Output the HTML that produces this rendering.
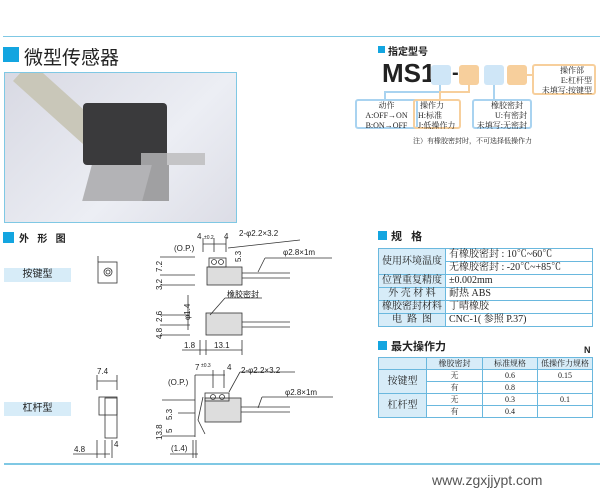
<!DOCTYPE html>
<html><head><meta charset="utf-8">
<style>
body{margin:0;width:600px;height:500px;background:#fff;position:relative;overflow:hidden;font-family:"Liberation Serif","Noto Serif CJK SC",serif;color:#222}
.a{position:absolute;white-space:nowrap}
.sq{position:absolute;background:#13a5e0}
.h{font-family:"Liberation Sans","Noto Sans CJK SC",sans-serif;font-weight:bold}
table{border-collapse:collapse;position:absolute;font-size:10px}
td{border:1px solid #6ab8de;padding:0 3px;height:11px;line-height:11px}
.sp td{height:12px;line-height:12px}
.lb{background:#d7ecf8}
</style></head><body>
<div class="a" style="left:3px;top:36px;width:597px;height:1px;background:#7fc8e4"></div>
<div class="sq" style="left:3px;top:47px;width:16px;height:15px"></div>
<div class="a h" style="left:24px;top:43px;font-size:19px;font-weight:normal">微型传感器</div>
<div class="a" style="left:4px;top:72px;width:231px;height:149px;border:1px solid #7fc8e4;background:linear-gradient(135deg,#d8d9e3,#eceef4 60%,#dcdde6);overflow:hidden">
<div class="a" style="left:5px;top:0;width:26px;height:140px;background:#c9c7b9;transform:rotate(-48deg);transform-origin:top left;left:8px;top:8px"></div>
<div class="a" style="left:78px;top:30px;width:84px;height:62px;background:#3a3a3c;border-radius:4px"></div>
<div class="a" style="left:136px;top:80px;width:28px;height:48px;background:#a0a0a2"></div>
<div class="a" style="left:82px;top:92px;width:60px;height:36px;background:#b3b3b6;transform:skewX(-15deg)"></div>
<div class="a" style="left:162px;top:80px;width:38px;height:12px;background:#c4c4c6"></div>
</div>

<div class="sq" style="left:378px;top:46px;width:7px;height:7px"></div>
<div class="a h" style="left:388px;top:43px;font-size:10px">指定型号</div>
<div class="a" style="left:382px;top:58px;font-family:'Liberation Sans',sans-serif;font-weight:bold;font-size:26px">MS1</div>
<div class="a" style="left:431px;top:65px;width:20px;height:20px;background:#cfe6f7;border-radius:3px"></div>
<div class="a" style="left:452px;top:62px;font-size:20px;font-weight:bold;font-family:'Liberation Sans'">-</div>
<div class="a" style="left:459px;top:65px;width:20px;height:20px;background:#f7cf9c;border-radius:3px"></div>
<div class="a" style="left:484px;top:65px;width:20px;height:20px;background:#cfe6f7;border-radius:3px"></div>
<div class="a" style="left:507px;top:65px;width:20px;height:20px;background:#f7cf9c;border-radius:3px"></div>
<div class="a" style="left:532px;top:64px;width:64px;height:31px;border:2px solid #f7cf9c;border-radius:3px;font-size:8px;line-height:10px;text-align:right;padding-right:2px;box-sizing:border-box">操作部&nbsp;&nbsp;&nbsp;&nbsp;<br>E:杠杆型<br>未填写:按键型</div>
<svg class="a" style="left:0;top:0" width="600" height="500">
<polyline points="440,85 440,92 385,92 385,99" fill="none" stroke="#a9d3f0" stroke-width="2"/>
<polyline points="469,85 469,92 440,92 440,99" fill="none" stroke="#f7cf9c" stroke-width="2"/>
<polyline points="494,85 494,99" fill="none" stroke="#a9d3f0" stroke-width="2"/>
<polyline points="527,75 532,75" fill="none" stroke="#f7cf9c" stroke-width="2"/>
</svg>
<div class="a" style="left:355px;top:99px;width:63px;height:30px;border:2px solid #a9d3f0;border-radius:3px;font-size:8px;line-height:10px;text-align:center;box-sizing:border-box">动作<br>A:OFF→ON<br>B:ON→OFF</div>
<div class="a" style="left:413px;top:99px;width:48px;height:30px;border:2px solid #f7cf9c;border-radius:3px;font-size:8px;line-height:10px;text-align:left;padding-left:3px;box-sizing:border-box">&nbsp;操作力<br>H:标准<br>J:低操作力</div>
<div class="a" style="left:472px;top:99px;width:60px;height:30px;border:2px solid #a9d3f0;border-radius:3px;font-size:8px;line-height:10px;text-align:right;padding-right:3px;box-sizing:border-box">橡胶密封&nbsp;&nbsp;<br>U:有密封<br>未填写:无密封</div>
<div class="a" style="left:413px;top:136px;font-size:7px">注）有橡胶密封时，不可选择低操作力</div>

<div class="sq" style="left:378px;top:231px;width:9px;height:9px"></div>
<div class="a h" style="left:391px;top:228px;font-size:11px">规&nbsp;&nbsp;&nbsp;格</div>
<table class="sp" style="left:378px;top:248px;width:215px">
<tr><td class="lb" rowspan="2" style="width:60px">使用环境温度</td><td>有橡胶密封 : 10℃~60℃</td></tr>
<tr><td>无橡胶密封 : -20℃~+85℃</td></tr>
<tr><td class="lb">位置重复精度</td><td>±0.002mm</td></tr>
<tr><td class="lb" style="text-align:center">外 壳 材 料</td><td>耐热 ABS</td></tr>
<tr><td class="lb">橡胶密封材料</td><td>丁晴橡胶</td></tr>
<tr><td class="lb" style="text-align:center">电&nbsp;&nbsp;路&nbsp;&nbsp;图</td><td>CNC-1( 参照 P.37)</td></tr>
</table>
<div class="sq" style="left:378px;top:341px;width:9px;height:9px"></div>
<div class="a h" style="left:391px;top:338px;font-size:11px">最大操作力</div>
<div class="a h" style="left:584px;top:345px;font-size:9px">N</div>
<table style="left:378px;top:357px;width:215px;font-size:8px;text-align:center">
<tr><td class="lb" style="width:41px"></td><td class="lb" style="width:49px">橡胶密封</td><td class="lb" style="width:48px">标准规格</td><td class="lb">低操作力规格</td></tr>
<tr><td class="lb" rowspan="2" style="font-size:10px">按键型</td><td>无</td><td>0.6</td><td>0.15</td></tr>
<tr><td>有</td><td>0.8</td><td></td></tr>
<tr><td class="lb" rowspan="2" style="font-size:10px">杠杆型</td><td>无</td><td>0.3</td><td>0.1</td></tr>
<tr><td>有</td><td>0.4</td><td></td></tr>
</table>

<div class="sq" style="left:3px;top:232px;width:11px;height:11px"></div>
<div class="a h" style="left:19px;top:230px;font-size:10px">外&nbsp;&nbsp;&nbsp;形&nbsp;&nbsp;&nbsp;图</div>
<div class="a lb" style="left:4px;top:268px;width:67px;height:14px;font-size:10px;text-align:center;line-height:14px;font-family:'Liberation Sans','Noto Sans CJK SC',sans-serif">按键型</div>
<div class="a lb" style="left:4px;top:402px;width:67px;height:14px;font-size:10px;text-align:center;line-height:14px;font-family:'Liberation Sans','Noto Sans CJK SC',sans-serif">杠杆型</div>
<svg class="a" style="left:0;top:0;font-family:'Liberation Sans',sans-serif" width="600" height="500" font-size="8" fill="#222">
<g stroke="#333" stroke-width="0.8" fill="none">
<rect x="98" y="262" width="19" height="21"/><circle cx="108" cy="272" r="4"/><circle cx="108" cy="272" r="2"/><line x1="98" y1="256" x2="98" y2="262"/>
<rect x="207" y="267" width="35" height="18" fill="#ddd"/><rect x="209" y="258" width="17" height="9"/>
<circle cx="214" cy="262" r="2.5"/><circle cx="221" cy="262" r="2.5"/>
<line x1="242" y1="273" x2="290" y2="273"/><line x1="242" y1="278" x2="290" y2="278"/>
<line x1="160" y1="257" x2="195" y2="257"/><line x1="160" y1="275" x2="195" y2="275"/><line x1="160" y1="285" x2="195" y2="285"/>
<line x1="203" y1="238" x2="203" y2="252"/><line x1="214" y1="238" x2="214" y2="252"/><line x1="226" y1="238" x2="226" y2="252"/>
<line x1="203" y1="244" x2="226" y2="244"/>
<line x1="228" y1="248" x2="300" y2="240"/><line x1="265" y1="258" x2="332" y2="258"/><line x1="265" y1="258" x2="258" y2="272"/>
<rect x="206" y="313" width="36" height="22" fill="#ddd"/>
<line x1="242" y1="322" x2="290" y2="322"/><line x1="242" y1="327" x2="290" y2="327"/>
<line x1="160" y1="315" x2="190" y2="315"/><line x1="160" y1="325" x2="190" y2="325"/><line x1="160" y1="335" x2="190" y2="335"/>
<line x1="188" y1="295" x2="188" y2="330"/>
<line x1="210" y1="315" x2="225" y2="298"/><line x1="225" y1="298" x2="262" y2="298"/>
<line x1="182" y1="350" x2="242" y2="350"/><line x1="200" y1="340" x2="200" y2="355"/><line x1="206" y1="340" x2="206" y2="355"/><line x1="242" y1="340" x2="242" y2="355"/>
<rect x="105" y="398" width="12" height="40"/><rect x="99" y="397" width="18" height="18"/>
<line x1="97" y1="375" x2="97" y2="390"/><line x1="117" y1="375" x2="117" y2="390"/><line x1="97" y1="381" x2="117" y2="381"/>
<line x1="73" y1="454" x2="110" y2="454"/><line x1="97" y1="440" x2="97" y2="458"/><line x1="105" y1="440" x2="105" y2="458"/><line x1="112" y1="440" x2="112" y2="458"/>
<rect x="205" y="398" width="36" height="24" fill="#ddd"/><rect x="205" y="393" width="24" height="8"/>
<circle cx="213" cy="397" r="2.5"/><circle cx="222" cy="397" r="2.5"/>
<line x1="241" y1="407" x2="290" y2="407"/><line x1="241" y1="412" x2="290" y2="412"/>
<polyline points="203,397 198,420 205,434"/>
<line x1="162" y1="400" x2="195" y2="400"/><line x1="162" y1="436" x2="195" y2="436"/><line x1="178" y1="413" x2="195" y2="413"/>
<line x1="195" y1="375" x2="195" y2="437"/>
<line x1="195" y1="375" x2="225" y2="375"/><line x1="213" y1="370" x2="213" y2="388"/><line x1="224" y1="370" x2="224" y2="388"/>
<line x1="229" y1="392" x2="240" y2="372"/><line x1="240" y1="372" x2="295" y2="372"/>
<line x1="262" y1="397" x2="333" y2="397"/><line x1="262" y1="397" x2="258" y2="408"/>
<line x1="170" y1="454" x2="198" y2="454"/><line x1="193" y1="440" x2="193" y2="458"/><line x1="196" y1="440" x2="196" y2="458"/>
</g>
<text x="174" y="251">(O.P.)</text><text x="197" y="239">4</text><text x="204" y="239" font-size="5">±0.2</text><text x="224" y="239">4</text>
<text x="239" y="236">2-φ2.2×3.2</text><text x="283" y="255">φ2.8×1m</text>
<text x="241" y="262" transform="rotate(-90 241 262)">5.3</text>
<text x="162" y="272" transform="rotate(-90 162 272)">7.2</text><text x="162" y="290" transform="rotate(-90 162 290)">3.2</text>
<text x="227" y="297">橡胶密封</text>
<text x="190" y="320" transform="rotate(-90 190 320)">φ1.4</text>
<text x="162" y="322" transform="rotate(-90 162 322)">2.6</text><text x="162" y="339" transform="rotate(-90 162 339)">4.8</text>
<text x="184" y="348">1.8</text><text x="214" y="348">13.1</text>
<text x="97" y="374">7.4</text><text x="74" y="452">4.8</text><text x="114" y="447">4</text>
<text x="195" y="370">7</text><text x="201" y="367" font-size="5">±0.3</text><text x="227" y="370">4</text>
<text x="168" y="385">(O.P.)</text><text x="241" y="373">2-φ2.2×3.2</text><text x="285" y="395">φ2.8×1m</text>
<text x="162" y="440" transform="rotate(-90 162 440)">13.8</text><text x="172" y="420" transform="rotate(-90 172 420)">5.3</text><text x="172" y="433" transform="rotate(-90 172 433)">5</text>
<text x="171" y="451">(1.4)</text>
</svg>
<div class="a" style="left:4px;top:463px;width:596px;height:2px;background:#7fc8e4"></div>
<div class="a" style="left:432px;top:472px;font-size:14px;font-family:'Liberation Sans',sans-serif;color:#555">www.zgxjjypt.com</div>
</body></html>
